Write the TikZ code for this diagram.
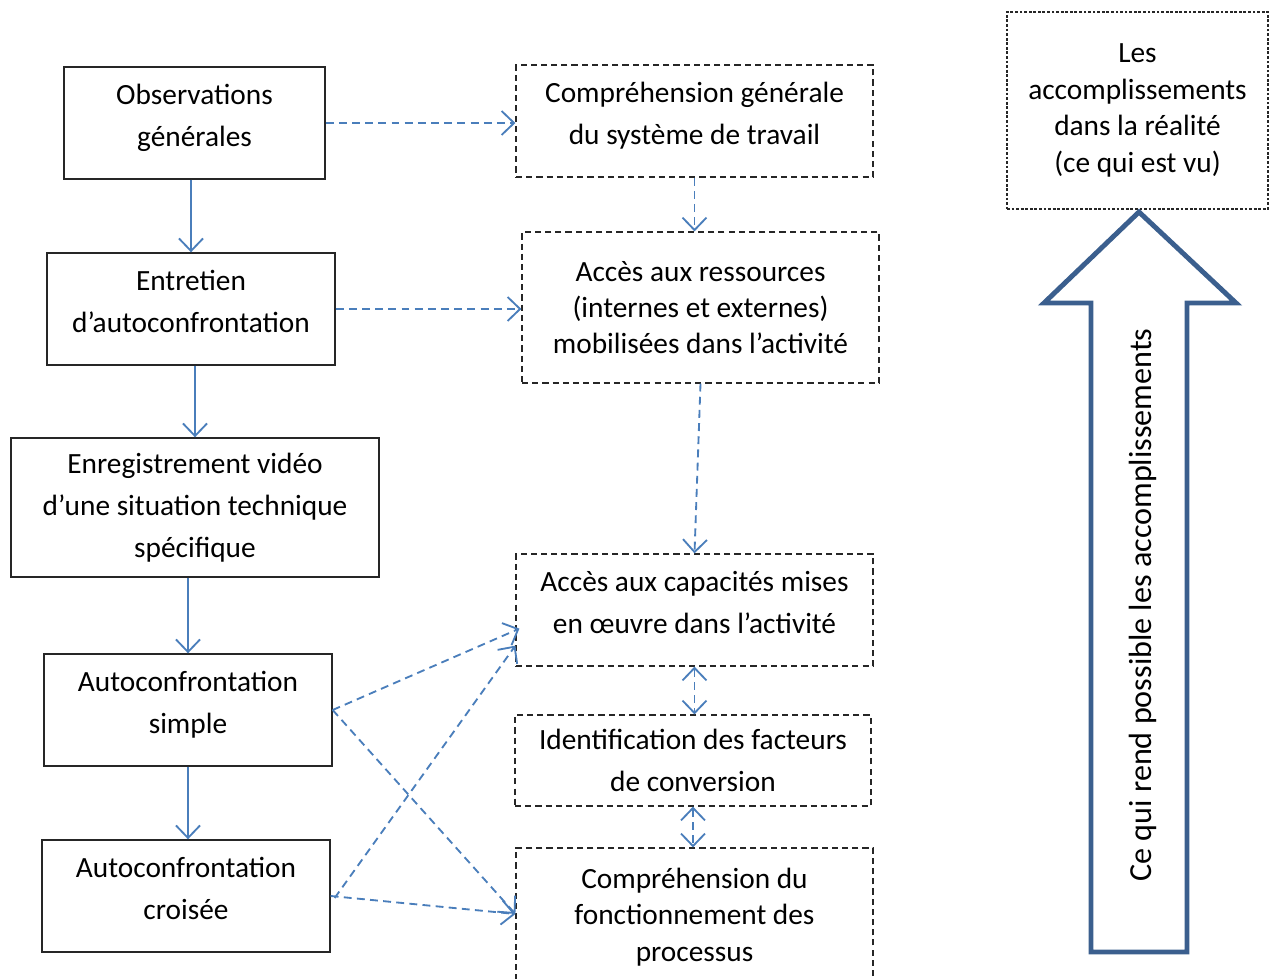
\documentclass[tikz,border=0pt]{standalone}
\usepackage{fontspec}
\setmainfont{Carlito}
\usetikzlibrary{arrows.meta, calc}
\definecolor{linkblue}{HTML}{4A7EBB}
\definecolor{arrowblue}{HTML}{3B5F8E}
\tikzset{%
    solidbox/.style={%
        draw=black!85, line width=0.8pt, align=center, inner sep=0,
        font=\fontsize{16.7}{24}\selectfont
    },
    dashbox/.style={%
        solidbox, line width=0.7pt, dash pattern=on 3.5pt off 2.3pt
    },
    tight/.style={%
        font=\fontsize{16.7}{20.7}\selectfont
    },
    lift/.style={%
        text depth=#1
    },
    flow/.style={%
        -{Straight Barb[length=2.5mm, width=4.8mm]}, draw=linkblue, line width=1.05pt
    },
    link/.style={%
        flow, dash pattern=on 4.5pt off 3pt
    },
    mutual/.style={%
        link, {Straight Barb[length=2.5mm, width=4.8mm]}-{Straight Barb[length=2.5mm, width=4.8mm]}
    },
}

\begin{document}
\begin{tikzpicture}[x=0.02cm, y=-0.02cm]
    \clip (0,0) rectangle (1276,979);

    % method steps (left)
    \node[solidbox, lift=9pt, minimum width=5.22cm, minimum height=2.24cm] (obs) at (194.5,123) {Observations\\générales};
    \node[solidbox, lift=9pt, minimum width=5.76cm, minimum height=2.24cm] (entretien) at (191,309) {Entretien\\d’autoconfrontation};
    \node[solidbox, minimum width=7.36cm, minimum height=2.78cm] (video) at (195,507.5) {Enregistrement vidéo\\d’une situation technique\\spécifique};
    \node[solidbox, lift=9pt, minimum width=5.76cm, minimum height=2.24cm] (simple) at (188,710) {Autoconfrontation\\simple};
    \node[solidbox, lift=9pt, minimum width=5.76cm, minimum height=2.24cm] (croisee) at (186,896) {Autoconfrontation\\croisée};

    % what each step gives access to (right)
    \node[dashbox, lift=8.5pt, minimum width=7.14cm, minimum height=2.24cm] (compgen) at (694.5,121) {Compréhension générale\\du système de travail};
    \node[dashbox, tight, minimum width=7.14cm, minimum height=3.02cm] (ressources) at (700.5,307.5) {Accès aux ressources\\(internes et externes)\\mobilisées dans l’activité};
    \node[dashbox, lift=8.5pt, minimum width=7.14cm, minimum height=2.24cm] (capacites) at (694.5,610) {Accès aux capacités mises\\en œuvre dans l’activité};
    \node[dashbox, minimum width=7.12cm, minimum height=1.82cm] (facteurs) at (693,760.5) {Identification des facteurs\\de conversion};
    \node[dashbox, tight, minimum width=7.14cm, minimum height=2.76cm] (processus) at (694.5,917) {Compréhension du\\fonctionnement des\\processus};

    % realisations
    \node[dashbox, tight, dash pattern=on 1.6pt off 1pt, minimum width=5.22cm, minimum height=3.94cm] (accompl) at (1137.5,110.5) {Les\\accomplissements\\dans la réalité\\(ce qui est vu)};
    \draw[arrowblue, line width=2.8pt, line join=miter] (1139,212) -- (1236,303) -- (1187,303) -- (1187,952) -- (1091,952) -- (1091,303) -- (1044,303) -- cycle;
    \node[rotate=90, font=\fontsize{18.3}{22}\selectfont] (enabler) at (1143,605) {Ce qui rend possible les accomplissements};

    \draw[flow] (entretien.north |- obs.south) -- (entretien.north);
    \draw[flow] (video.north |- entretien.south) -- (video.north);
    \draw[flow] (video.south -| simple.north) -- (simple);
    \draw[flow] (simple.south) -- (simple.south |- croisee.north);

    \draw[link] (obs.east) -- (obs.east -| compgen.west);
    \draw[link] (entretien.east) -- (entretien.east -| ressources.west);
    \draw[link] (compgen.south) -- (compgen.south |- ressources.north);
    \draw[link] (ressources.south) -- (capacites.north);
    \draw[link] (simple.east) -- ($(capacites.south west)+(4,-38)$);
    \draw[link] (simple.east) -- ($(processus.west)+(0,-3)$);
    \draw[link] ($(croisee.east)+(4,2)$) -- ($(capacites.south west)+(0,-21)$);
    \draw[link] (croisee.east) -- ($(processus.west)+(0,-3)$);
    \draw[mutual] (capacites.south) -- (capacites.south |- facteurs.north);
    \draw[mutual] (facteurs.south) -- (facteurs.south |- processus.north);
\end{tikzpicture}
\end{document}
